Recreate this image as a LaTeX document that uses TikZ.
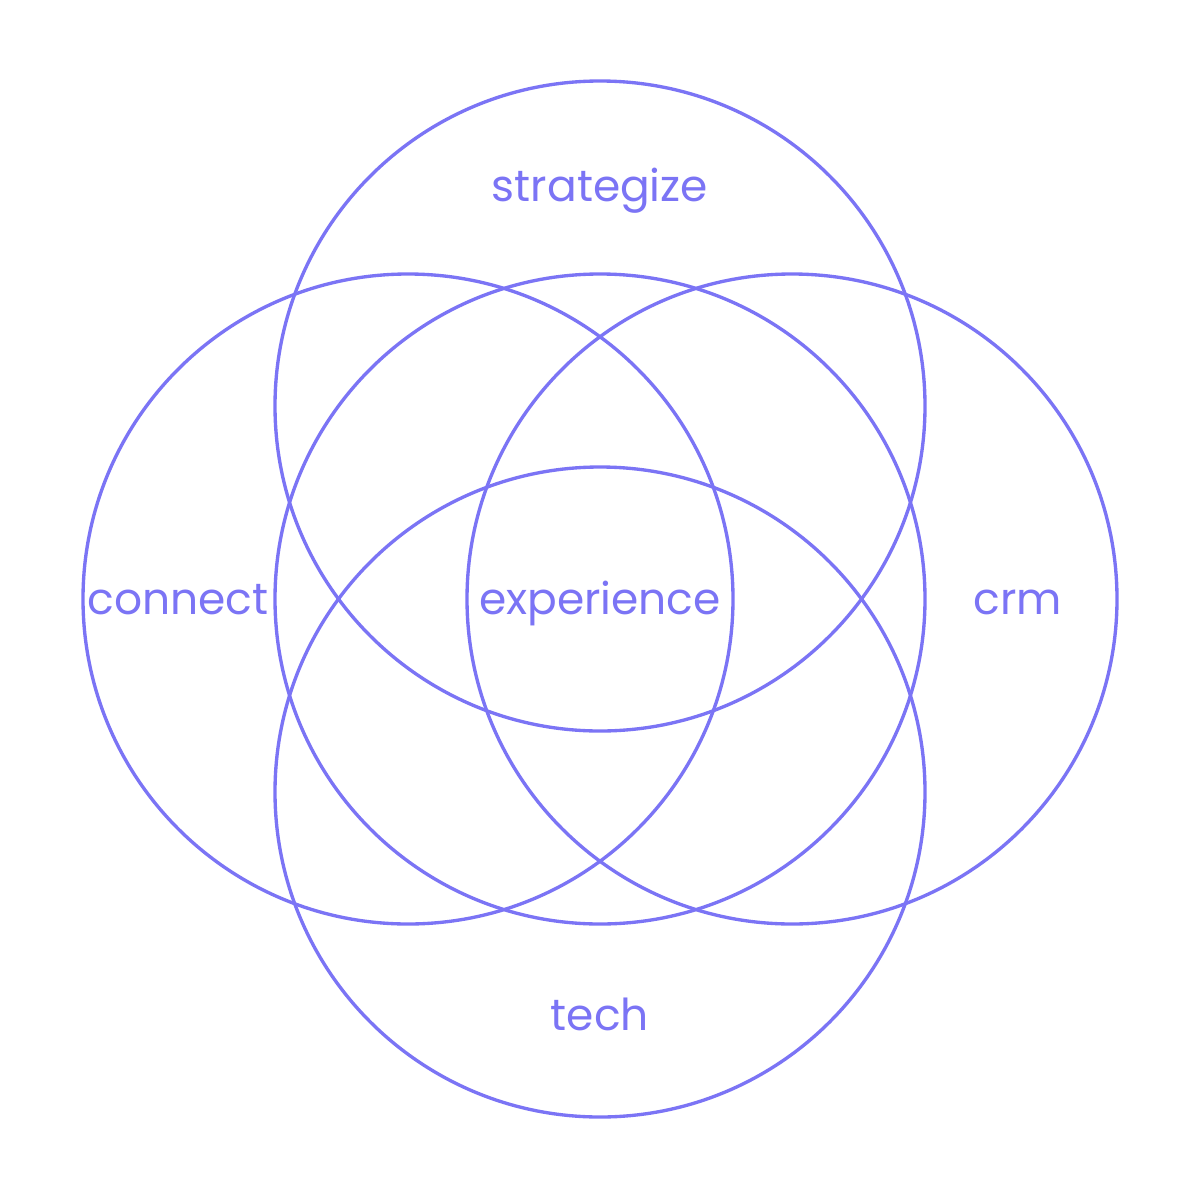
\documentclass[tikz,border=0pt]{standalone}
\usepackage{fontspec}
\setmainfont{Poppins}
\definecolor{venn}{HTML}{7B74F5}
\begin{document}
\begin{tikzpicture}[x=0.01cm,y=-0.01cm,
  ring/.style={draw=venn,line width=0.95pt},
  lbl/.style={text=venn,font=\fontsize{12.5pt}{15pt}\selectfont,inner sep=0pt,anchor=base}]
\useasboundingbox[fill=white] (0,0) rectangle (1200,1200);
\draw[ring] (600,406) circle (325);
\draw[ring] (408,599) circle (325);
\draw[ring] (792,599) circle (325);
\draw[ring] (600,792) circle (325);
\draw[ring] (600,599) circle (325);
\node[lbl] (strat) at (600,201) {strategize};
\node[lbl] (conn) at (178,614) {connect};
\node[lbl] (exp) at (600,614) {experience};
\node[lbl] (crm) at (1018,614) {crm};
\node[lbl] (tech) at (600,1030) {tech};
\end{tikzpicture}
\end{document}
